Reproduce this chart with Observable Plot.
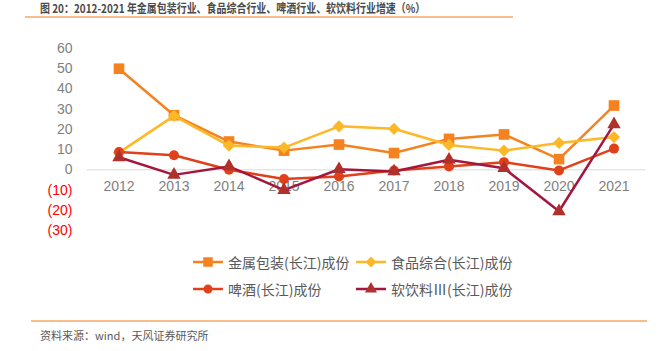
<!DOCTYPE html>
<html><head><meta charset="utf-8">
<script src="https://cdn.jsdelivr.net/npm/d3@7"></script>
<script src="https://cdn.jsdelivr.net/npm/@observablehq/plot@0.6"></script>
<style>
body{margin:0;background:#fff;font-family:"Noto Sans CJK SC","Noto Sans",sans-serif;}
#wrap{position:relative;width:659px;height:351px;overflow:hidden;}
#title{position:absolute;left:40px;top:0px;font-size:12px;font-weight:bold;color:#4a4a4a;line-height:15px;white-space:nowrap;transform:scaleX(0.83);transform-origin:left top;}
#tline{position:absolute;left:25px;top:16px;width:488px;height:2px;background:#F9BD8C;}
#fline{position:absolute;left:31px;top:320px;width:616px;height:2px;background:#F9BD8C;}
#foot{position:absolute;left:40px;top:327px;font-size:11px;color:#595959;line-height:16px;white-space:nowrap;}
#chart{position:absolute;left:0;top:0;}
.leg{position:absolute;font-size:14px;color:#595959;line-height:18px;white-space:nowrap;display:flex;align-items:center;}
.leg svg{margin-right:5px;}
</style></head>
<body><div id="wrap">
<div id="chart"></div>
<div id="title">图 20：2012-2021 年金属包装行业、食品综合行业、啤酒行业、软饮料行业增速（%）</div>
<div id="tline"></div>
<div id="legend"></div>
<div id="fline"></div>
<div id="foot">资料来源：wind，天风证券研究所</div>
</div>
<script>
const years = ["2012","2013","2014","2015","2016","2017","2018","2019","2020","2021"];
const metalPackaging = [50, 27, 14, 9.5, 12.5, 8.3, 15.3, 17.5, 5.3, 31.8];
const foodComposite = [8.5, 26.7, 12, 11, 21.5, 20.3, 12.3, 9.5, 13.3, 16.2];
const beer = [8.8, 7.2, 0, -4.5, -3.3, -0.3, 1.7, 3.8, -0.3, 10.5];
const softDrink = [6.2, -2.5, 1.7, -10, 0.3, -0.8, 5, 0.8, -20.5, 22.5];
const yTicks = [60, 50, 40, 30, 20, 10, 0, -10, -20, -30];
const seriesNames = ["金属包装(长江)成份", "食品综合(长江)成份", "啤酒(长江)成份", "软饮料Ⅲ(长江)成份"];

const series = [
  {name: seriesNames[0], values: metalPackaging, stroke: "#F5821F", fill: "#F5821F", symbol: "square", r: 6},
  {name: seriesNames[1], values: foodComposite, stroke: "#FDB827", fill: "#FDB827", symbol: "diamond2", r: 5.5},
  {name: seriesNames[2], values: beer, stroke: "#E0401A", fill: "#E0401A", symbol: "circle", r: 5},
  {name: seriesNames[3], values: softDrink, stroke: "#A3173F", fill: "#B0302C", symbol: "triangle", r: 5}
];

const marks = [
  Plot.ruleY([0], {stroke: "#d9d9d9", strokeWidth: 1}),
  Plot.text(yTicks, {y: d => d, frameAnchor: "left", dx: -15, textAnchor: "end",
    text: d => d < 0 ? `(${-d})` : String(d), fill: d => d < 0 ? "#FF0000" : "#7f7f7f",
    fontSize: 14, fontFamily: "Liberation Sans, Arial, sans-serif"}),
  Plot.text(years, {x: d => d, y: () => 0, dy: 17, text: d => d, fill: "#7f7f7f",
    fontSize: 14, fontFamily: "Liberation Sans, Arial, sans-serif"})
];
for (const s of series) {
  const data = years.map((y, i) => ({year: y, value: s.values[i]}));
  marks.push(Plot.line(data, {x: "year", y: "value", stroke: s.stroke, strokeWidth: 2.5}));
  marks.push(Plot.dot(data, {x: "year", y: "value", symbol: s.symbol, r: s.r, fill: s.fill, stroke: "none"}));
}

const chart = Plot.plot({
  width: 659, height: 250,
  marginTop: 48, marginBottom: 20, marginLeft: 87, marginRight: 14,
  x: {type: "band", domain: years, padding: 0, axis: null},
  y: {domain: [-30, 60], axis: null},
  style: {background: "transparent", overflow: "visible"},
  marks
});
document.getElementById("chart").appendChild(chart);

// legend
const legPos = [[193, 253], [356, 253], [193, 280], [356, 280]];
const leg = document.getElementById("legend");
series.forEach((s, i) => {
  const d = document.createElement("div");
  d.className = "leg";
  d.style.left = legPos[i][0] + "px";
  d.style.top = legPos[i][1] + "px";
  const symType = {square: d3.symbolSquare, diamond2: d3.symbolDiamond2, circle: d3.symbolCircle, triangle: d3.symbolTriangle}[s.symbol];
  const path = d3.symbol(symType, Math.PI * s.r * s.r * 0.8)();
  d.innerHTML = `<svg width="30" height="14"><line x1="0" x2="30" y1="7" y2="7" stroke="${s.stroke}" stroke-width="2.5"/><path transform="translate(15,7)" d="${path}" fill="${s.fill}"/></svg><span>${s.name}</span>`;
  leg.appendChild(d);
});
</script>
</body></html>
